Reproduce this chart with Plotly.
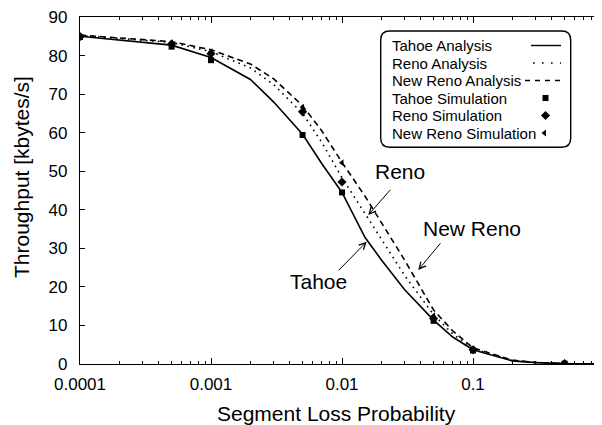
import plotly.graph_objects as go

# ---------------- data ----------------
p_analysis = [0.0001, 0.0005, 0.001, 0.002, 0.003, 0.005, 0.007, 0.01, 0.015, 0.02,
              0.03, 0.05, 0.07, 0.1, 0.2, 0.3, 0.5, 1.0]
tahoe_analysis = [85.0, 82.7, 79.5, 73.8, 68.0, 59.6, 52.0, 44.5, 32.8, 27.0,
                  19.3, 11.4, 7.0, 3.7, 0.8, 0.35, 0.1, 0.0]
reno_analysis = [85.2, 83.4, 81.0, 76.8, 72.5, 65.0, 57.5, 48.3, 39.0, 32.5,
                 23.0, 12.8, 7.8, 4.0, 0.9, 0.4, 0.1, 0.0]
newreno_analysis = [85.3, 83.6, 81.5, 77.8, 74.0, 67.0, 60.5, 52.3, 43.5, 36.5,
                    27.0, 14.0, 8.6, 4.2, 1.0, 0.4, 0.1, 0.0]

p_sim = [0.0001, 0.0005, 0.001, 0.005, 0.01, 0.05, 0.1, 0.5]
tahoe_sim = [84.8, 82.3, 78.8, 59.4, 44.5, 11.2, 3.5, 0.1]
reno_sim = [84.9, 83.0, 80.5, 65.4, 47.2, 11.8, 3.7, 0.1]
newreno_sim = [85.0, 83.3, 81.0, 66.6, 52.2, 12.5, 3.9, 0.1]

x_ticks = [0.0001, 0.001, 0.01, 0.1]
x_ticklabels = ["0.0001", "0.001", "0.01", "0.1"]
y_ticks = [0, 10, 20, 30, 40, 50, 60, 70, 80, 90]
minor_ticks = [m * 10 ** e for e in range(-4, 0) for m in range(2, 10)]

legend_labels = ["Tahoe Analysis", "Reno Analysis", "New Reno Analysis",
                 "Tahoe Simulation", "Reno Simulation", "New Reno Simulation"]

# ---------------- layout geometry ----------------
# the page has an 8px body margin; screen coordinates = figure coordinates + 8
OFF = 8
W, H = 602 - OFF, 425 - OFF
SL, ST, SB = 80, 17, 364          # plot area edges on screen
L, T = SL - OFF, ST - OFF
B = H - (SB - OFF)
R = 0
PW, PH = W - L - R, H - T - B
FONT = "Liberation Sans, Arial, Helvetica, sans-serif"


def px(xs):
    return (xs - OFF - L) / PW


def py(ys):
    return (H - B - (ys - OFF)) / PH


fig = go.Figure()

LW = 1.6
fig.add_trace(go.Scatter(x=p_analysis, y=tahoe_analysis, mode="lines",
                         line=dict(color="black", width=LW), showlegend=False))
fig.add_trace(go.Scatter(x=p_analysis, y=reno_analysis, mode="lines",
                         line=dict(color="black", width=LW, dash="1.6px,4.4px"), showlegend=False))
fig.add_trace(go.Scatter(x=p_analysis, y=newreno_analysis, mode="lines",
                         line=dict(color="black", width=LW, dash="6px,4px"), showlegend=False))
fig.add_trace(go.Scatter(x=p_sim, y=tahoe_sim, mode="markers",
                         marker=dict(symbol="square", size=6, color="black"), showlegend=False))
fig.add_trace(go.Scatter(x=p_sim, y=reno_sim, mode="markers",
                         marker=dict(symbol="diamond", size=7, color="black"), showlegend=False))
fig.add_trace(go.Scatter(x=p_sim, y=newreno_sim, mode="markers",
                         marker=dict(symbol="triangle-left", size=6, color="black"), showlegend=False))

# ---------------- custom legend (overlay axes in screen pixels) ----------------
bx0, bx1, by0, by1, rr = 380.7, 570.7, 31.0, 147.3, 9
path = (f"M{bx0+rr},{by0} L{bx1-rr},{by0} Q{bx1},{by0} {bx1},{by0+rr} "
        f"L{bx1},{by1-rr} Q{bx1},{by1} {bx1-rr},{by1} L{bx0+rr},{by1} "
        f"Q{bx0},{by1} {bx0},{by1-rr} L{bx0},{by0+rr} Q{bx0},{by0} {bx0+rr},{by0} Z")
shapes = [dict(type="path", path=path, xref="x2", yref="y2",
               line=dict(color="black", width=1.4), fillcolor="white", layer="below")]

row_y = [45.5, 63.0, 80.5, 98.0, 115.5, 133.0]
annotations = []
for lab, ry in zip(legend_labels, row_y):
    annotations.append(dict(text=lab, x=390, y=ry, xref="x2", yref="y2",
                            xanchor="left", yanchor="middle", showarrow=False,
                            font=dict(family=FONT, size=15, color="black")))
shapes.append(dict(type="line", x0=531, x1=561, y0=row_y[0], y1=row_y[0], xref="x2", yref="y2",
                   line=dict(color="black", width=1.4)))
shapes.append(dict(type="line", x0=533, x1=561, y0=row_y[1], y1=row_y[1], xref="x2", yref="y2",
                   line=dict(color="black", width=1.6, dash="1.6px,7.4px")))
shapes.append(dict(type="line", x0=525, x1=561, y0=row_y[2], y1=row_y[2], xref="x2", yref="y2",
                   line=dict(color="black", width=1.4, dash="5px,5px")))

fig.add_trace(go.Scatter(x=[545.5], y=[row_y[3]], xaxis="x2", yaxis="y2", mode="markers",
                         marker=dict(symbol="square", size=6, color="black"), showlegend=False))
fig.add_trace(go.Scatter(x=[545.5], y=[row_y[4]], xaxis="x2", yaxis="y2", mode="markers",
                         marker=dict(symbol="diamond", size=7, color="black"), showlegend=False))
fig.add_trace(go.Scatter(x=[544.5], y=[row_y[5]], xaxis="x2", yaxis="y2", mode="markers",
                         marker=dict(symbol="triangle-left", size=6, color="black"), showlegend=False))

# ---------------- curve labels with arrows ----------------
labfont = dict(family=FONT, size=21, color="black")


def text_at(t, xs, ys, font, angle=0):
    return dict(text=t, x=px(xs), y=py(ys), xref="paper", yref="paper", showarrow=False,
                xanchor="center", yanchor="middle", textangle=angle, font=font)


annotations += [
    text_at("Reno", 400, 171.5, labfont),
    text_at("Tahoe", 318.5, 281.5, labfont),
    text_at("New Reno", 472, 228, labfont),
]
arrows = [((368.3, 215.0), (391.7, 188.3)),
          ((366.7, 241.7), (337.3, 271.7)),
          ((418.3, 270.0), (441.7, 241.7))]
for (tx, ty), (sx, sy) in arrows:
    annotations.append(dict(text="", x=px(tx), y=py(ty), xref="paper", yref="paper",
                            ax=sx - tx, ay=sy - ty, showarrow=True, arrowhead=5,
                            arrowsize=1.3, arrowwidth=1, arrowcolor="black"))

# axis titles
annotations.append(text_at("Segment Loss Probability", 336, 413, dict(family=FONT, size=21, color="black")))
annotations.append(text_at("Throughput [kbytes/s]", 21.5, 177.5, dict(family=FONT, size=21, color="black"), -90))

xr = [-4, -4 + PW / 131.0]

fig.update_layout(
    width=W, height=H, margin=dict(l=L, r=R, t=T, b=B, pad=0),
    plot_bgcolor="white", paper_bgcolor="white",
    font=dict(family=FONT, size=17, color="black"),
    xaxis=dict(type="log", range=xr, tickvals=x_ticks, ticktext=x_ticklabels,
               ticks="inside", ticklen=6, tickwidth=1, tickcolor="black",
               showline=True, linecolor="black", linewidth=1.2, mirror="ticks",
               showgrid=False, zeroline=False, ticklabelstandoff=4, ticklabeloverflow="allow",
               minor=dict(tickmode="array", tickvals=minor_ticks, ticks="inside",
                          ticklen=3, tickwidth=1, tickcolor="black", showgrid=False),
               tickfont=dict(family=FONT, size=17, color="black")),
    yaxis=dict(range=[0, 90], tickvals=y_ticks, ticks="inside", ticklen=5, tickwidth=1,
               tickcolor="black", showline=True, linecolor="black", linewidth=1.2,
               mirror="ticks", showgrid=False, zeroline=False, ticklabelstandoff=8,
               ticklabeloverflow="allow",
               tickfont=dict(family=FONT, size=17, color="black")),
    xaxis2=dict(range=[SL, SL + PW], overlaying="x", visible=False, anchor="y2"),
    yaxis2=dict(range=[SB, ST], overlaying="y", visible=False, anchor="x2"),
    shapes=shapes, annotations=annotations, showlegend=False,
)

fig.write_html("out.html")
